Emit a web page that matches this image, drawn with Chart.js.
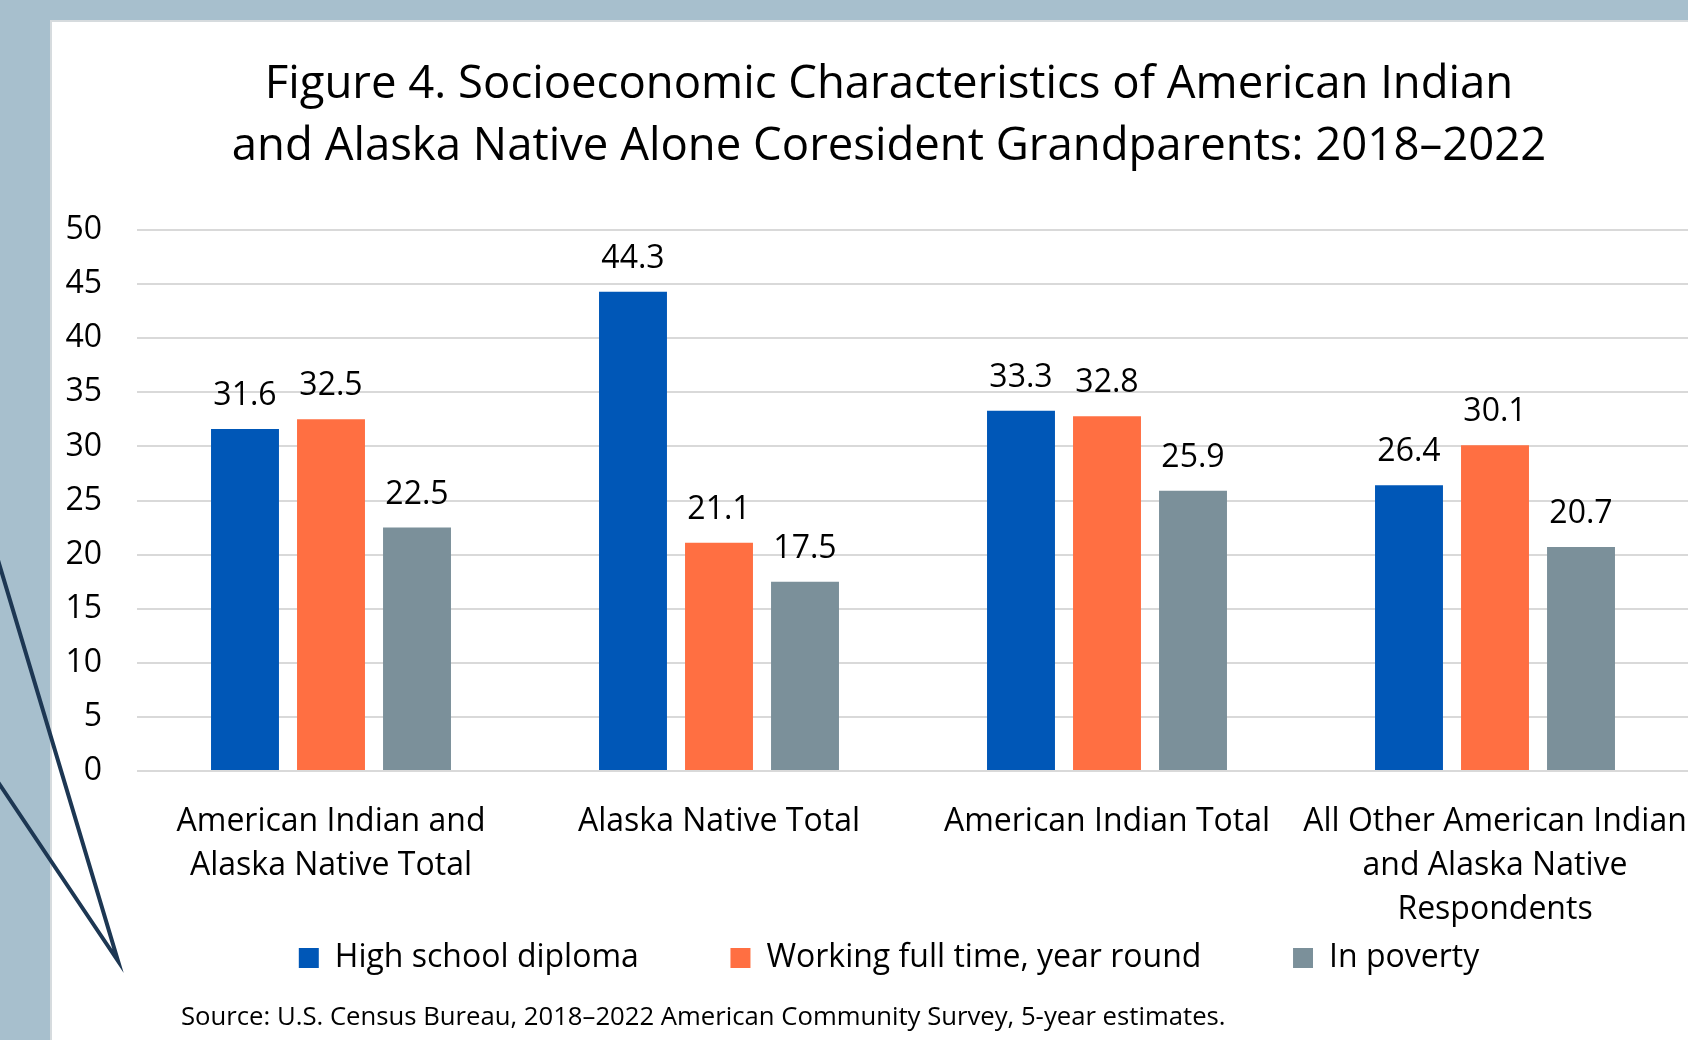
<!DOCTYPE html>
<html>
<head>
<meta charset="utf-8">
<script src="https://cdn.jsdelivr.net/npm/chart.js@4.4.1/dist/chart.umd.min.js"></script>
<style>
    html, body { margin: 0; padding: 0; overflow: hidden; }
    body { width: 1688px; height: 1040px; background: #a7bfcd; position: relative; font-family: "Open Sans", sans-serif; }
    #panel { position: absolute; left: 50px; top: 20px; width: 1700px; height: 1100px; background: #fff; border-left: 2px solid #d6dbde; border-top: 2px solid #d6dbde; }
    #chartBox { position: absolute; left: 51px; top: 20px; }
    #source { position: absolute; left: 181px; top: 998px; font-size: 25.7px; color: #000; white-space: nowrap; }
    #callout { position: absolute; left: 0; top: 0; }
</style>
</head>
<body>
<div id="panel"></div>
<div id="chartBox"><canvas id="grandparentsBar" width="1676" height="1020"></canvas></div>
<div id="source">Source: U.S. Census Bureau, 2018–2022 American Community Survey, 5-year estimates.</div>
<svg id="callout" width="140" height="1040">
    <polyline points="-2,560 118,961 -2,782" fill="none" stroke="#1d3753" stroke-width="4" stroke-linejoin="miter" stroke-miterlimit="20"/>
</svg>
<script>
const titleLines = [
    "Figure 4. Socioeconomic Characteristics of American Indian",
    "and Alaska Native Alone Coresident Grandparents: 2018–2022"
];
const categories = [
    ["American Indian and", "Alaska Native Total"],
    ["Alaska Native Total"],
    ["American Indian Total"],
    ["All Other American Indian", "and Alaska Native", "Respondents"]
];
const seriesNames = ["High school diploma", "Working full time, year round", "In poverty"];
const highSchool = [31.6, 44.3, 33.3, 26.4];
const workingFullTime = [32.5, 21.1, 32.8, 30.1];
const inPoverty = [22.5, 17.5, 25.9, 20.7];
const yTicks = [0, 5, 10, 15, 20, 25, 30, 35, 40, 45, 50];

const FONT = "'Open Sans', 'Noto Sans', sans-serif";

// draws the value above each bar
const barValues = {
    id: "barValues",
    afterDatasetsDraw(chart) {
        const ctx = chart.ctx;
        ctx.save();
        ctx.font = "32px " + FONT;
        ctx.fillStyle = "#000";
        ctx.textAlign = "center";
        ctx.textBaseline = "alphabetic";
        chart.data.datasets.forEach((ds, i) => {
            chart.getDatasetMeta(i).data.forEach((bar, j) => {
                ctx.fillText(ds.data[j].toFixed(1), bar.x, bar.y - 24);
            });
        });
        ctx.restore();
    }
};

// legend items sit far apart, but the legend itself must stay thin
function legendLabels(chart) {
    const items = Chart.defaults.plugins.legend.labels.generateLabels(chart);
    items.forEach((item, i) => {
        if (i < items.length - 1) item.text = item.text + "\u2003\u2003\u0020\u0020";
    });
    return items;
}

function renderChart() {
    new Chart(document.getElementById("grandparentsBar"), {
        type: "bar",
        data: {
            labels: categories,
            datasets: [
                { label: seriesNames[0], data: highSchool, backgroundColor: "#0057b7" },
                { label: seriesNames[1], data: workingFullTime, backgroundColor: "#ff6f42" },
                { label: seriesNames[2], data: inPoverty, backgroundColor: "#7b909a" }
            ]
        },
        options: {
            responsive: false,
            animation: false,
            categoryPercentage: 0.665,
            barPercentage: 0.79,
            layout: { padding: { top: 0, left: 0, right: 0, bottom: 56 } },
            scales: {
                x: {
                    grid: { display: false },
                    border: { display: false },
                    ticks: {
                        color: "#000",
                        font: { family: FONT, size: 32, lineHeight: 1.375 },
                        padding: 21,
                        maxRotation: 0,
                        autoSkip: false
                    },
                    afterFit: s => { s.height = 160; }
                },
                y: {
                    min: 0,
                    max: 50,
                    afterBuildTicks: s => { s.ticks = yTicks.map(v => ({ value: v })); },
                    grid: { color: "#d9d9d9", lineWidth: 2, drawTicks: false },
                    border: { display: false },
                    ticks: {
                        color: "#000",
                        font: { family: FONT, size: 32 },
                        padding: 35
                    },
                    afterFit: s => { s.width = 86; }
                },
                // empty right-hand strip, the original chart runs past the screenshot edge
                yRight: {
                    position: "right",
                    grid: { display: false },
                    border: { display: false },
                    ticks: { display: false },
                    afterFit: s => { s.width = 38; }
                }
            },
            plugins: {
                title: {
                    display: true,
                    text: titleLines,
                    color: "#000",
                    font: { family: FONT, size: 45.5, weight: "normal", lineHeight: 1.363 },
                    padding: { top: 34, bottom: 52 }
                },
                legend: {
                    position: "bottom",
                    labels: {
                        color: "#000",
                        font: { family: FONT, size: 32 },
                        boxWidth: 20,
                        boxHeight: 20,
                        padding: 11,
                        generateLabels: legendLabels
                    }
                },
                tooltip: { enabled: false }
            }
        },
        plugins: [barValues]
    });
}

renderChart();
</script>
</body>
</html>
